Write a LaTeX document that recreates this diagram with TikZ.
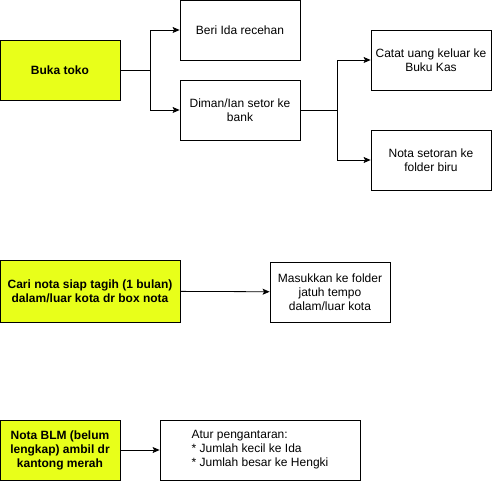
\documentclass[tikz,border=0pt]{standalone}
\usepackage{fontspec}
\setmainfont{Liberation Sans}
\usetikzlibrary{arrows.meta}
\definecolor{stabilo}{RGB}{232,255,26}
\begin{document}
\begin{tikzpicture}[
        x=1pt, y=-1pt,
        task/.style={rectangle, draw=black, fill=white, line width=0.8pt, minimum width=120pt, minimum height=60pt, align=center, font=\fontsize{12}{14}\selectfont},
        main/.style={task, fill=stabilo, font=\fontsize{12}{14}\selectfont\bfseries},
        arrow/.style={-{Stealth[length=7pt, width=6pt, inset=1.5pt]}, line width=0.8pt}
    ]
    \useasboundingbox (0,0) rectangle (495,481);

    % buka toko
    \node[main] (buka) at (60,70) {Buka toko};
    \node[task] (beri) at (240,30) {Beri Ida recehan};
    \node[task] (diman) at (240,110) {Diman/Ian setor ke\\bank};
    \node[task] (catat) at (431,60) {Catat uang keluar ke\\Buku Kas};
    \node[task] (setoran) at (431,160) {Nota setoran ke\\folder biru};

    \draw[arrow] (buka.east) -- +(30,0) |- (beri.west);
    \draw[arrow] (buka.east) -- +(30,0) |- (diman.west);
    \draw[arrow] (diman.east) -- +(37,0) |- (catat.west);
    \draw[arrow] (diman.east) -- +(37,0) |- (setoran.west);

    % nota tagih
    \node[main, minimum width=180pt, minimum height=62pt] (cari) at (90,291) {Cari nota siap tagih (1 bulan)\\dalam/luar kota dr box nota};
    \node[task] (masuk) at (330,292) {Masukkan ke folder\\jatuh tempo\\dalam/luar kota};
    \draw[arrow] (cari) -- (masuk);

    % nota BLM
    \node[main] (blm) at (60,450) {Nota BLM (belum\\lengkap) ambil dr\\kantong merah};
    \node[task, minimum width=200pt, align=left] (atur) at (260,450) {Atur pengantaran:\\{*} Jumlah kecil ke Ida\\{*} Jumlah besar ke Hengki};
    \draw[arrow] (blm) -- (atur);

\end{tikzpicture}
\end{document}
